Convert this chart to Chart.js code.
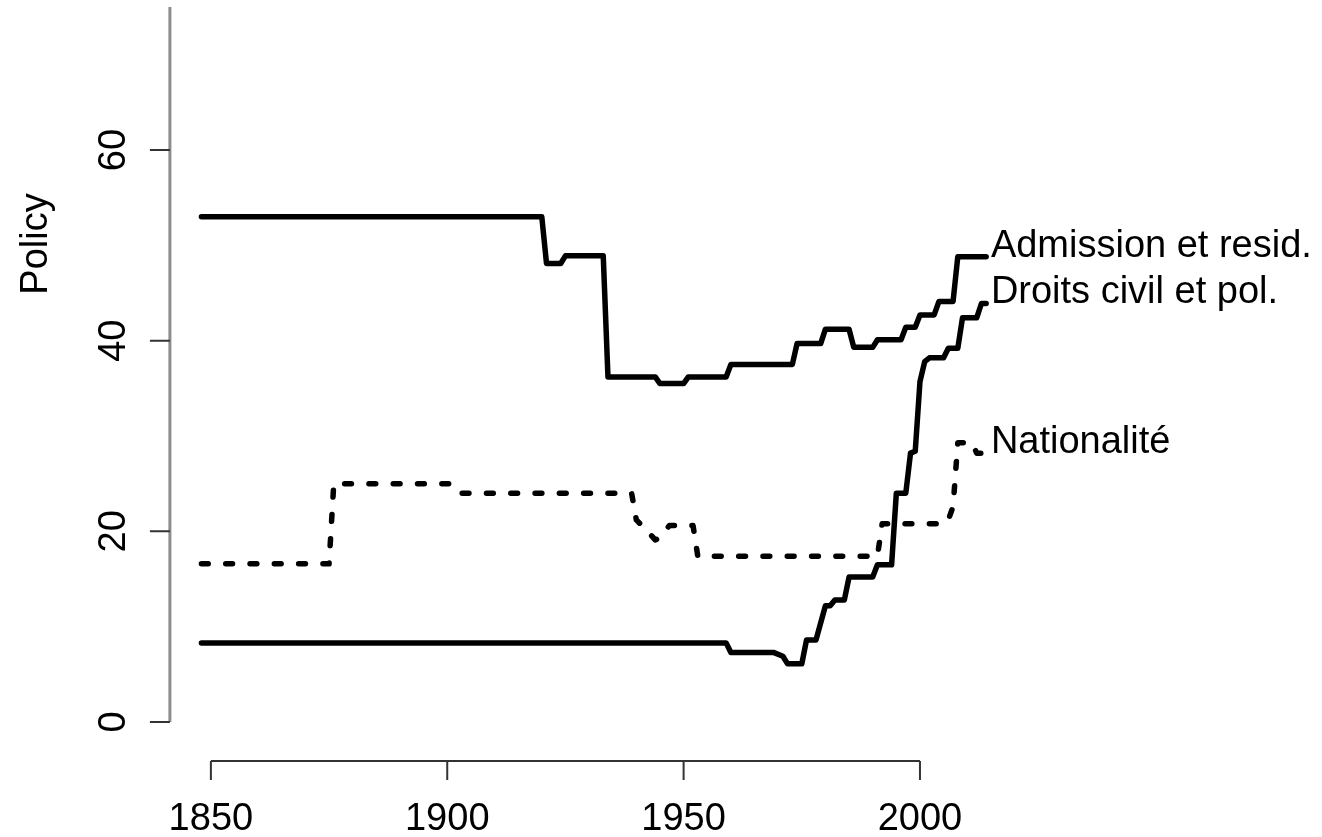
<!DOCTYPE html>
<html>
<head>
<meta charset="utf-8">
<script src="https://cdn.jsdelivr.net/npm/chart.js@4/dist/chart.umd.min.js"></script>
<style>
  html, body { margin: 0; padding: 0; background: #fff; }
  canvas { display: block; }
</style>
</head>
<body>
<canvas id="chart" width="1322" height="837"></canvas>
<script>
// values (year, policy score) at each change point
var admYears  = [1848, 1920, 1921, 1924, 1925, 1933, 1934, 1944, 1945, 1950, 1951, 1959, 1960, 1973, 1974, 1979, 1980, 1985, 1986, 1990, 1991, 1996, 1997, 1999, 2000, 2003, 2004, 2007, 2008, 2014];
var admValues = [53, 53, 48.1, 48.1, 48.9, 48.9, 36.2, 36.2, 35.5, 35.5, 36.2, 36.2, 37.5, 37.5, 39.7, 39.7, 41.2, 41.2, 39.3, 39.3, 40.1, 40.1, 41.4, 41.4, 42.7, 42.7, 44.1, 44.1, 48.8, 48.8];

var droitsYears  = [1848, 1959, 1960, 1969, 1971, 1972, 1975, 1976, 1978, 1980, 1981, 1982, 1984, 1985, 1990, 1991, 1994, 1995, 1997, 1998, 1999, 2000, 2001, 2002, 2005, 2006, 2008, 2009, 2012, 2013, 2014];
var droitsValues = [8.3, 8.3, 7.3, 7.3, 6.9, 6.1, 6.1, 8.6, 8.6, 12.2, 12.2, 12.8, 12.8, 15.2, 15.2, 16.5, 16.5, 24.0, 24.0, 28.2, 28.4, 35.7, 37.8, 38.2, 38.2, 39.2, 39.2, 42.4, 42.4, 43.9, 43.9];

var natYears  = [1848, 1875, 1876, 1901, 1903, 1939, 1940, 1942, 1944, 1945, 1946, 1947, 1952, 1953, 1991, 1992, 2005, 2006, 2007, 2008, 2011, 2012, 2014];
var natValues = [16.6, 16.6, 25.0, 25.0, 24.0, 24.0, 21.2, 20.2, 19.1, 19.3, 20.0, 20.6, 20.6, 17.4, 17.4, 20.8, 20.8, 21.2, 22.6, 29.3, 29.3, 28.2, 28.2];

var seriesLabels = ['Admission et resid.', 'Droits civil et pol.', 'Nationalit\u00e9'];
var xTicks = [1850, 1900, 1950, 2000];
var yTicks = [0, 20, 40, 60];
var yTitle = 'Policy';

var FONT = '38px "Liberation Sans", Arial, sans-serif';

function points(xs, ys){
  var ret = [];
  for (var i = 0, l = xs.length; i < l; i++) {
    ret.push({ x: xs[i], y: ys[i] });
  }
  return ret;
}

function lineSet(label, xs, ys, dash){
  return {
    label: label,
    data: points(xs, ys),
    borderColor: '#000',
    borderWidth: 5.5,
    borderDash: dash || [],
    borderCapStyle: 'round',
    borderJoinStyle: 'round',
    pointRadius: 0,
    tension: 0,
    fill: false
  };
}

// R style axes, offset from the data, plus end of line labels
var baseAxes = {
  id: 'baseAxes',
  afterDraw: function(chart){
    var ctx = chart.ctx, xs = chart.scales.x, ys = chart.scales.y, area = chart.chartArea;
    var i, px, py;
    ctx.save();

    ctx.strokeStyle = '#8c8c8c';
    ctx.lineWidth = 3;
    ctx.beginPath();
    ctx.moveTo(area.left, ys.getPixelForValue(yTicks[0]));
    ctx.lineTo(area.left, area.top);
    ctx.stroke();

    ctx.strokeStyle = '#333';
    ctx.lineWidth = 2;
    ctx.beginPath();
    for (i = 0; i < yTicks.length; i++) {
      py = ys.getPixelForValue(yTicks[i]);
      ctx.moveTo(area.left - 20, py);
      ctx.lineTo(area.left, py);
    }
    ctx.moveTo(xs.getPixelForValue(xTicks[0]), area.bottom);
    ctx.lineTo(xs.getPixelForValue(xTicks[xTicks.length - 1]), area.bottom);
    for (i = 0; i < xTicks.length; i++) {
      px = xs.getPixelForValue(xTicks[i]);
      ctx.moveTo(px, area.bottom);
      ctx.lineTo(px, area.bottom + 19);
    }
    ctx.stroke();

    ctx.fillStyle = '#000';
    ctx.font = FONT;
    ctx.textAlign = 'center';
    ctx.textBaseline = 'alphabetic';
    for (i = 0; i < xTicks.length; i++) {
      ctx.fillText(String(xTicks[i]), xs.getPixelForValue(xTicks[i]), area.bottom + 69);
    }
    for (i = 0; i < yTicks.length; i++) {
      ctx.save();
      ctx.translate(area.left - 45, ys.getPixelForValue(yTicks[i]));
      ctx.rotate(-Math.PI / 2);
      ctx.fillText(String(yTicks[i]), 0, 0);
      ctx.restore();
    }
    ctx.save();
    ctx.translate(area.left - 123, 244);
    ctx.rotate(-Math.PI / 2);
    ctx.fillText(yTitle, 0, 0);
    ctx.restore();

    // labels sit one year past the last point, baseline on the last value
    ctx.textAlign = 'left';
    var sets = chart.data.datasets;
    for (i = 0; i < sets.length; i++) {
      var last = sets[i].data[sets[i].data.length - 1];
      ctx.fillText(seriesLabels[i], xs.getPixelForValue(last.x + 1), ys.getPixelForValue(last.y));
    }
    ctx.restore();
  }
};

var chart = new Chart(document.getElementById('chart'), {
  type: 'line',
  data: {
    datasets: [
      lineSet(seriesLabels[0], admYears, admValues),
      lineSet(seriesLabels[1], droitsYears, droitsValues),
      lineSet(seriesLabels[2], natYears, natValues, [6.8, 17.5])
    ]
  },
  options: {
    responsive: false,
    animation: false,
    devicePixelRatio: 1,
    layout: { padding: { left: 169.9, right: 118.4, top: 7, bottom: 75.9 } },
    plugins: { legend: { display: false }, tooltip: { enabled: false } },
    scales: {
      x: { type: 'linear', min: 1841.33, max: 2060, display: false },
      y: { type: 'linear', min: -4.1, max: 75, display: false }
    }
  },
  plugins: [baseAxes]
});
</script>
</body>
</html>
